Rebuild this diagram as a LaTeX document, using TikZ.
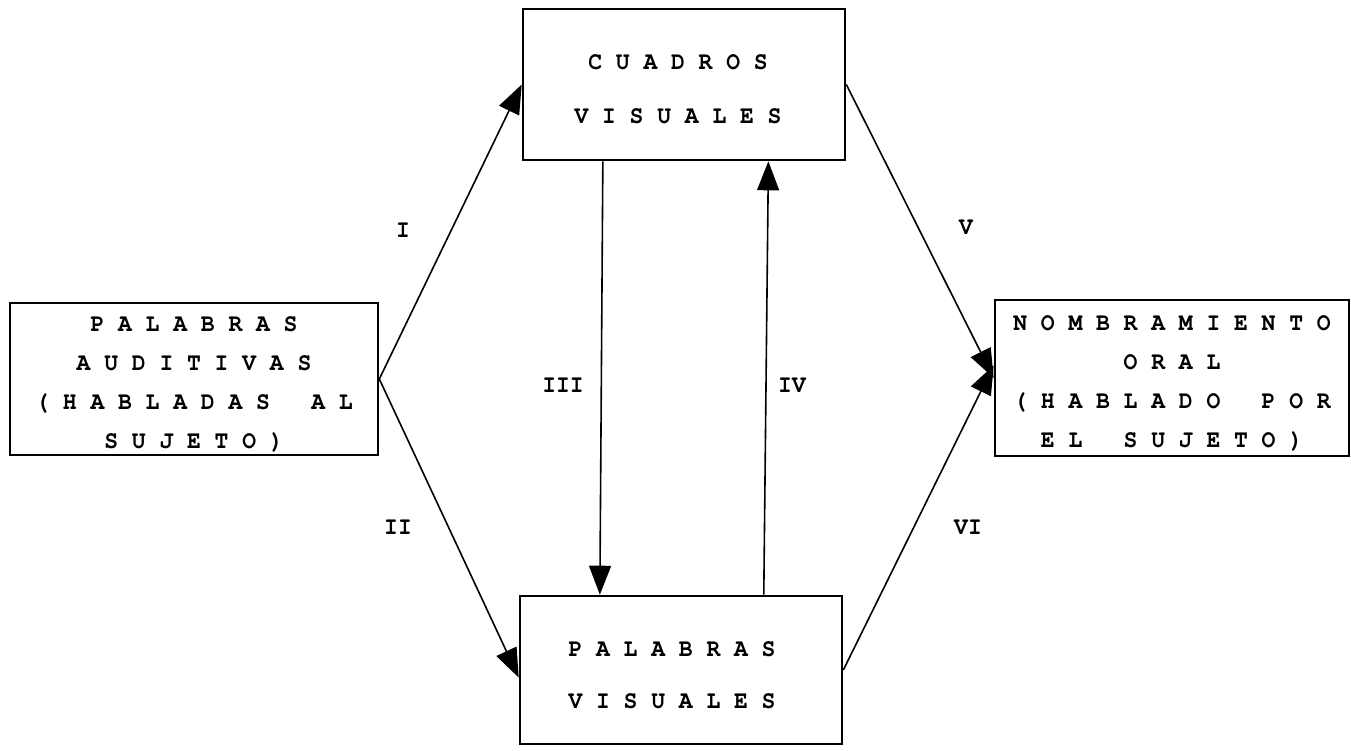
\documentclass[tikz,border=0pt]{standalone}
\usepackage{fontspec}
\newfontfamily\typew{texgyrecursor-bold.otf}[FakeStretch=0.92]
\usetikzlibrary{arrows.meta,calc}
\newcommand{\fl}[1]{\rule{0pt}{#1pt}}
\newcommand{\rs}[1]{\rule{#1pt}{0pt}}
\begin{document}
\begin{tikzpicture}[x=1pt,y=-1pt,
  box/.style={draw,line width=2.6pt,inner sep=0pt,align=center,
    font=\typew\fontsize{25}{39}\selectfont},
  conn/.style={line width=1.6pt,-{Triangle[length=29pt,width=22pt]}},
  lab/.style={font=\typew\fontsize{25}{25}\selectfont,inner sep=0pt}]
\useasboundingbox (0,0) rectangle (1351,750);
% boxes
\node[box,minimum width=368pt,minimum height=152pt] (L) at (194,379)
  {\fl{25}P A L A B R A S\\A U D I T I V A S\\( H A B L A D A S\ \ \ A L\\S U J E T O )};
\node[box,minimum width=322pt,minimum height=151pt,
  font=\typew\fontsize{25}{54}\selectfont] (T) at (684,84.5)
  {\fl{24}C U A D R O S\rs{12}\\V I S U A L E S\rs{12}};
\node[box,minimum width=322pt,minimum height=148pt,
  font=\typew\fontsize{25}{52}\selectfont] (B) at (681,670)
  {\fl{25}P A L A B R A S\rs{18}\\V I S U A L E S\rs{18}};
\node[box,minimum width=354pt,minimum height=156pt] (R) at (1172,378)
  {\fl{26}N O M B R A M I E N T O\\O R A L\\( H A B L A D O\ \ \ P O R\\E L\ \ \ S U J E T O )};
% connectors
\draw[conn] (L.east) -- (T.west);
\draw[conn] (L.east) -- ($(B.north west)!0.55!(B.south west)$);
\draw[conn] ($(T.south west)!0.25!(T.south east)$) -- ($(B.north west)!0.25!(B.north east)$);
\draw[conn] ($(B.north west)!0.755!(B.north east)$) -- ($(T.south west)!0.76!(T.south east)$);
\draw[conn] (T.east) -- (R.west);
\draw[conn] (B.east) -- ($(R.north west)!0.42!(R.south west)$);
% labels
\node[lab] (lI) at (403,230) {I};
\node[lab] (lII) at (398,527) {II};
\node[lab] (lIII) at (563,385) {III};
\node[lab] (lIV) at (792,385) {IV};
\node[lab] (lV) at (966,227) {V};
\node[lab] (lVI) at (968,527) {VI};
\end{tikzpicture}
\end{document}
